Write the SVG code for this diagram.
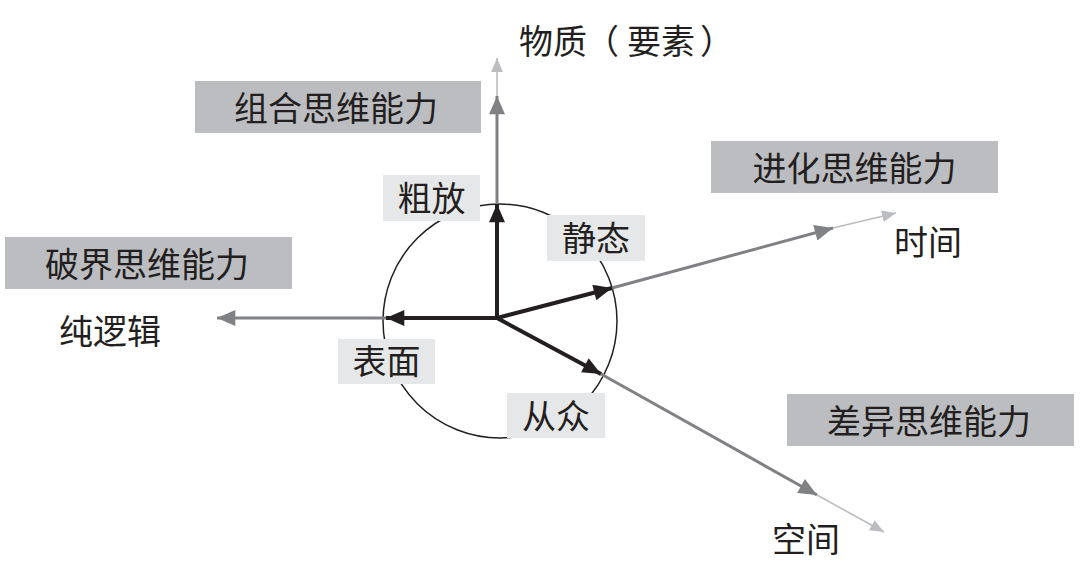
<svg xmlns="http://www.w3.org/2000/svg" width="1080" height="571" viewBox="0 0 1080 571">
<style>
text{font-family:"Noto Sans CJK SC","Noto Sans CJK JP",sans-serif;fill:#231f20;font-size:34px}
.c{text-anchor:middle}
.big{fill:#bcbdc0}
.lab{fill:#e6e7e8}
.blk{stroke:#231f20;stroke-width:4;fill:none}
.dk{stroke:#808184;stroke-width:3;fill:none}
.lt{stroke:#bcbdc0;stroke-width:1.6;fill:none}
</style>
<defs>
<marker id="ab" markerUnits="userSpaceOnUse" markerWidth="20" markerHeight="16" refX="16" refY="7" orient="auto" viewBox="0 0 16 14"><path d="M0,0 L16,7 L0,14 Z" fill="#231f20"/></marker>
<marker id="ad" markerUnits="userSpaceOnUse" markerWidth="20" markerHeight="16" refX="16" refY="7" orient="auto" viewBox="0 0 16 14"><path d="M0,0 L16,7 L0,14 Z" fill="#808184"/></marker>
<marker id="al" markerUnits="userSpaceOnUse" markerWidth="14" markerHeight="12" refX="12" refY="5" orient="auto" viewBox="0 0 12 10"><path d="M0,0 L12,5 L0,10 Z" fill="#bcbdc0"/></marker>
</defs>
<g id="connectors">
<circle cx="500" cy="321" r="117" fill="none" stroke="#231f20" stroke-width="1.5"/>
<line class="dk" x1="497" y1="204" x2="497" y2="96" marker-end="url(#ad)"/>
<line class="lt" x1="497" y1="96" x2="497" y2="58" marker-end="url(#al)"/>
<line class="dk" x1="612" y1="288" x2="833" y2="228" marker-end="url(#ad)"/>
<line class="lt" x1="833" y1="228" x2="896" y2="213" marker-end="url(#al)"/>
<line class="dk" x1="601" y1="374" x2="817" y2="495" marker-end="url(#ad)"/>
<line class="lt" x1="817" y1="495" x2="884" y2="532" marker-end="url(#al)"/>
<line class="dk" x1="386" y1="318" x2="217" y2="318" marker-end="url(#ad)"/>
<line class="blk" x1="497" y1="318" x2="497" y2="204" marker-end="url(#ab)"/>
<line class="blk" x1="497" y1="318" x2="386" y2="318" marker-end="url(#ab)"/>
<line class="blk" x1="497" y1="318" x2="612" y2="288" marker-end="url(#ab)"/>
<line class="blk" x1="497" y1="318" x2="601" y2="374" marker-end="url(#ab)"/>
</g>
<g id="axis-material"><text x="519 553 585 627 661 700" y="54">物质（要素）</text></g>
<g id="axis-time"><text x="894" y="255">时间</text></g>
<g id="axis-space"><text x="772" y="552">空间</text></g>
<g id="axis-logic"><text x="59" y="344">纯逻辑</text></g>
<g id="box-combine"><rect class="big" x="195" y="81" width="286" height="52"/><text class="c" x="336" y="121">组合思维能力</text></g>
<g id="box-evolve"><rect class="big" x="711" y="141" width="287" height="52"/><text class="c" x="854.5" y="181">进化思维能力</text></g>
<g id="box-break"><rect class="big" x="5" y="237" width="287" height="52"/><text class="c" x="147" y="277">破界思维能力</text></g>
<g id="box-diff"><rect class="big" x="787" y="394" width="287" height="52"/><text class="c" x="929" y="434">差异思维能力</text></g>
<g id="label-rough"><rect class="lab" x="383" y="175" width="97" height="46"/><text class="c" x="431.5" y="211">粗放</text></g>
<g id="label-static"><rect class="lab" x="547" y="215" width="98" height="46"/><text class="c" x="596" y="251">静态</text></g>
<g id="label-surface"><rect class="lab" x="338" y="339" width="97" height="45"/><text class="c" x="386.5" y="374">表面</text></g>
<g id="label-follow"><rect class="lab" x="507" y="393" width="98" height="45"/><text class="c" x="556" y="429">从众</text></g>
</svg>
